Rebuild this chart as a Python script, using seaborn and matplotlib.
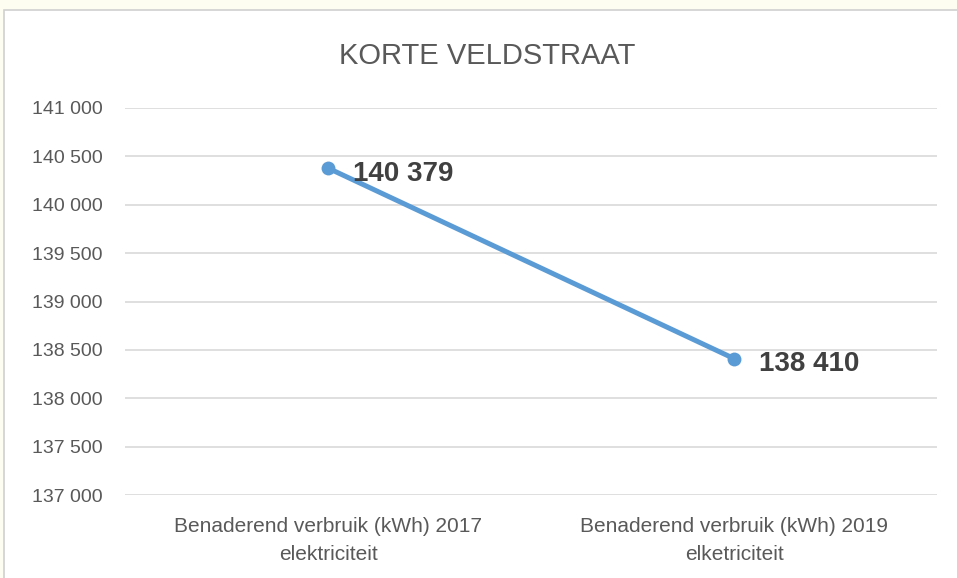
import matplotlib
matplotlib.use("Agg")
import matplotlib.pyplot as plt
import seaborn as sns
import pandas as pd
from matplotlib.ticker import FuncFormatter, MultipleLocator
from matplotlib.patches import Rectangle

title = "KORTE VELDSTRAAT"
categories = ["Benaderend verbruik (kWh) 2017\nelektriciteit",
              "Benaderend verbruik (kWh) 2019\nelketriciteit"]
verbruik = [140379, 138410]

df = pd.DataFrame({"cat": categories, "kwh": verbruik})

sns.set_style("white")
plt.rcParams['font.family'] = ['Liberation Sans', 'DejaVu Sans']

fig = plt.figure(figsize=(9.57, 5.78), dpi=100, facecolor="#fefdf2")
# white chart area with a thin grey border
fig.patches.append(Rectangle((4 / 957, -0.05), 1.1, 1 - 10 / 578 + 0.05,
                             transform=fig.transFigure, facecolor="white",
                             edgecolor="#d0d0d0", linewidth=1.2, zorder=-10))

ax = fig.add_axes([125 / 957, 1 - 495 / 578, 812 / 957, (495 - 108) / 578])
ax.set_facecolor("none")
ax.set_zorder(5)

sns.lineplot(data=df, x="cat", y="kwh", ax=ax, color="#5b9bd5", linewidth=3.6,
             marker="o", markersize=10, markeredgewidth=0, sort=False)

fmt = lambda v: f"{v:,.0f}".replace(",", " ")
for i, v in enumerate(verbruik):
    ax.annotate(fmt(v), (i, v), xytext=(18, -4), textcoords="offset points",
                ha="left", va="center", fontsize=20, fontweight="bold",
                color="#404040")

ax.set_ylim(137000, 141000)
ax.yaxis.set_major_locator(MultipleLocator(500))
ax.yaxis.set_major_formatter(FuncFormatter(lambda v, p: fmt(v)))
ax.set_xlim(-0.5, 1.5)

ax.grid(axis="y", color="#d9d9d9", linewidth=1.2)
ax.grid(axis="x", visible=False)
for s in ax.spines.values():
    s.set_visible(False)
ax.tick_params(axis="both", length=0, colors="#595959")
ax.tick_params(axis="y", pad=16, labelsize=14)
ax.tick_params(axis="x", pad=16, labelsize=15)
for lbl in ax.get_xticklabels():
    lbl.set_linespacing(1.6)
ax.set_xlabel("")
ax.set_ylabel("")

fig.text(487 / 957, 1 - 56 / 578, title, ha="center", va="center",
         fontsize=21, color="#595959")

fig.savefig("out.png", dpi=100, facecolor=fig.get_facecolor())
